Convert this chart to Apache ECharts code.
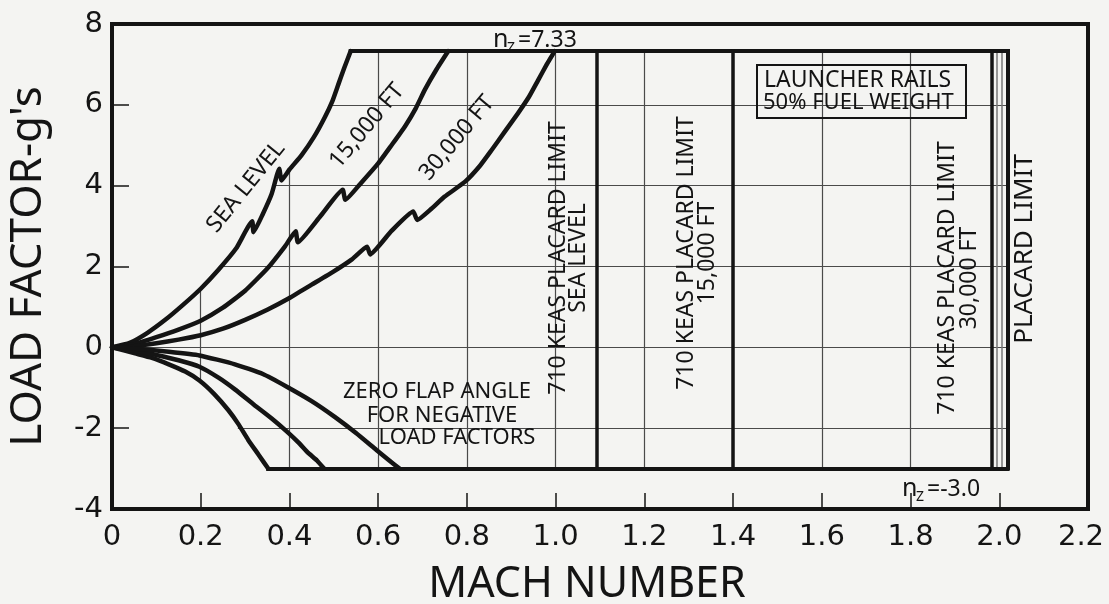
<!DOCTYPE html>
<html>
<head>
<meta charset="utf-8">
<title>Load factor vs Mach number</title>
<script src="https://cdn.jsdelivr.net/npm/echarts@6/dist/echarts.min.js"></script>
<style>
  html, body { margin: 0; padding: 0; background: #f4f4f2; }
  #chart { width: 1109px; height: 604px; }
</style>
</head>
<body>
<div id="chart"></div>
<script>
// axis ranges (ticks every 0.2 Mach, every 2 g)
const machTicks = [0, 0.2, 0.4, 0.6, 0.8, 1.0, 1.2, 1.4, 1.6, 1.8, 2.0, 2.2]
const loadTicks = [-4, -2, 0, 2, 4, 6, 8]

// positive load factor curves [mach, n]
const seaLevelPos = [[0, 0], [0.04, 0.11], [0.08, 0.36], [0.12, 0.68], [0.16, 1.05], [0.2, 1.45], [0.24, 1.92], [0.28, 2.45], [0.316, 3.12], [0.319, 2.85], [0.34, 3.3], [0.36, 3.8], [0.377, 4.42], [0.382, 4.13], [0.4, 4.4], [0.427, 4.75], [0.455, 5.2], [0.48, 5.7], [0.497, 6.1], [0.51, 6.5], [0.523, 6.9], [0.538, 7.33]]
const ft15000Pos = [[0, 0], [0.05, 0.08], [0.1, 0.25], [0.15, 0.44], [0.2, 0.66], [0.25, 0.98], [0.3, 1.4], [0.35, 1.95], [0.39, 2.5], [0.414, 2.87], [0.419, 2.6], [0.47, 3.25], [0.52, 3.9], [0.526, 3.65], [0.56, 4.05], [0.6, 4.55], [0.63, 5.0], [0.66, 5.46], [0.685, 5.92], [0.705, 6.37], [0.73, 6.85], [0.758, 7.33]]
const ft30000Pos = [[0, 0], [0.05, 0.03], [0.1, 0.1], [0.15, 0.19], [0.2, 0.3], [0.25, 0.46], [0.3, 0.68], [0.35, 0.93], [0.4, 1.22], [0.45, 1.55], [0.5, 1.88], [0.54, 2.17], [0.575, 2.49], [0.582, 2.3], [0.63, 2.88], [0.679, 3.36], [0.688, 3.15], [0.72, 3.43], [0.75, 3.73], [0.796, 4.1], [0.83, 4.5], [0.855, 4.87], [0.885, 5.33], [0.915, 5.79], [0.94, 6.2], [0.96, 6.6], [0.98, 7.0], [0.998, 7.33]]

// negative load factor curves (zero flap angle)
const seaLevelNeg = [[0, 0], [0.052, -0.15], [0.09, -0.26], [0.128, -0.42], [0.165, -0.6], [0.197, -0.82], [0.23, -1.15], [0.262, -1.55], [0.285, -1.9], [0.307, -2.29], [0.33, -2.65], [0.352, -3.0]]
const ft15000Neg = [[0, 0], [0.05, -0.08], [0.1, -0.19], [0.15, -0.32], [0.197, -0.48], [0.24, -0.75], [0.277, -1.04], [0.32, -1.42], [0.36, -1.76], [0.395, -2.09], [0.42, -2.35], [0.443, -2.62], [0.462, -2.8], [0.478, -3.0]]
const ft30000Neg = [[0, 0], [0.05, -0.03], [0.128, -0.11], [0.197, -0.2], [0.277, -0.42], [0.34, -0.66], [0.395, -0.98], [0.45, -1.33], [0.502, -1.72], [0.55, -2.12], [0.596, -2.54], [0.625, -2.8], [0.648, -3.0]]

// envelope limits
const nzMax = 7.33
const nzMin = -3.0
const topStart = 0.538
const bottomStart = 0.352
const envelopeRight = 2.018
const placardMach = [1.093, 1.4, 1.983]
const railMach = [1.995, 2.006]

// grid segments inside the envelope
const gridMach = [0.2, 0.4, 0.6, 0.8, 1.0, 1.2, 1.4, 1.6, 1.8]
const gridMachLow = [-0.82, -3, -3, -3, -3, -3, -3, -3, -3]
const gridMachHigh = [1.45, 4.35, 7.33, 7.33, 7.33, 7.33, 7.33, 7.33, 7.33]
const gridLoad = [6, 4, 2, 0, -2]
const gridLoadStart = [0.49, 0.37, 0.245, 0, 0.285]

const INK = '#141414'
const FONT = '"Noto Sans", sans-serif'
const TICK_FONT = '"DejaVu Sans", sans-serif'

const chart = echarts.init(document.getElementById('chart'))

function segLines(segs, color, width, z) {
  return {
    type: 'lines',
    coordinateSystem: 'cartesian2d',
    silent: true,
    z: z,
    lineStyle: { color: color, width: width, opacity: 1, cap: 'square' },
    data: segs.map(s => ({ coords: s }))
  }
}

function curve(name, data) {
  return {
    name: name,
    type: 'line',
    data: data,
    showSymbol: false,
    silent: true,
    smooth: 0.15,
    z: 5,
    lineStyle: { color: INK, width: 4.5, cap: 'round', join: 'round' }
  }
}

const gridSegs = []
gridMach.forEach((m, i) => gridSegs.push([[m, gridMachLow[i]], [m, gridMachHigh[i]]]))
gridLoad.forEach((n, i) => gridSegs.push([[gridLoadStart[i], n], [envelopeRight, n]]))

const envelopeSegs = [
  [[topStart, nzMax], [envelopeRight, nzMax]],
  [[bottomStart, nzMin], [envelopeRight, nzMin]],
  [[envelopeRight, nzMin], [envelopeRight, nzMax]]
]
const placardSegs = placardMach.map(m => [[m, nzMin], [m, nzMax]])
const railSegs = railMach.map(m => [[m, nzMin], [m, nzMax]])

function vText(x, y, text, size, lh) {
  return {
    type: 'text', x: x, y: y, rotation: Math.PI / 2, z: 10,
    style: { text: text, fontSize: size, fontFamily: FONT, fill: INK, align: 'center', verticalAlign: 'middle', lineHeight: lh || size }
  }
}
function sText(x, y, text, size, deg) {
  return {
    type: 'text', x: x, y: y, rotation: (deg || 0) * Math.PI / 180, z: 10,
    style: { text: text, fontSize: size, fontFamily: FONT, fill: INK, align: 'center', verticalAlign: 'middle' }
  }
}
function nzLabel(x, y, value) {
  return {
    type: 'group', x: x, y: y, z: 10,
    children: [
      { type: 'text', x: 0, y: 0, style: { text: 'n', fontSize: 25, fontFamily: FONT, fill: INK, align: 'left', verticalAlign: 'middle' } },
      { type: 'text', x: 14, y: 8, style: { text: 'Z', fontSize: 14, fontFamily: FONT, fill: INK, align: 'left', verticalAlign: 'middle' } },
      { type: 'text', x: 25, y: 0, style: { text: '=' + value, fontSize: 23, fontFamily: FONT, fill: INK, align: 'left', verticalAlign: 'middle' } }
    ]
  }
}

chart.setOption({
  backgroundColor: '#f4f4f2',
  animation: false,
  grid: {
    left: 112, right: 21, top: 24, bottom: 95,
    outerBoundsMode: 'none',
    show: true, borderColor: INK, borderWidth: 4, backgroundColor: 'transparent'
  },
  xAxis: {
    type: 'value',
    min: machTicks[0],
    max: machTicks[machTicks.length - 1],
    interval: 0.2,
    axisLine: { show: false, onZero: false },
    axisTick: { inside: true, length: 16, lineStyle: { color: INK, width: 1.5 } },
    splitLine: { show: false },
    axisLabel: {
      margin: 14, fontSize: 29, fontFamily: TICK_FONT, color: INK,
      formatter: v => {
        if (Math.abs(v) < 1e-9) return '0'
        const s = v.toFixed(1)
        return v > 2.1 ? '{last|' + s + '}' : s
      },
      rich: {
        last: { fontSize: 29, fontFamily: TICK_FONT, color: INK, padding: [0, 14, 0, 0] }
      }
    },
    name: 'MACH NUMBER',
    nameLocation: 'middle',
    nameGap: 54,
    nameTextStyle: { fontSize: 43, fontFamily: FONT, color: INK, padding: [0, 26, 0, 0] }
  },
  yAxis: {
    type: 'value',
    min: loadTicks[0],
    max: loadTicks[loadTicks.length - 1],
    interval: 2,
    axisLine: { show: false, onZero: false },
    axisTick: { inside: true, length: 17, lineStyle: { color: INK, width: 1.5 } },
    splitLine: { show: false },
    axisLabel: { margin: 9, fontSize: 29, fontFamily: TICK_FONT, color: INK, padding: [12, 0, 0, 0] },
    name: "LOAD FACTOR-g's",
    nameLocation: 'middle',
    nameGap: 62,
    nameTextStyle: { fontSize: 44, fontFamily: FONT, color: INK }
  },
  series: [
    segLines(gridSegs, '#4a4a4a', 1.2, 1),
    segLines(railSegs, '#777', 1.5, 2),
    segLines(envelopeSegs, INK, 4, 3),
    segLines(placardSegs, INK, 3.5, 3),
    curve('Sea level', seaLevelPos),
    curve('15,000 ft', ft15000Pos),
    curve('30,000 ft', ft30000Pos),
    curve('Sea level neg', seaLevelNeg),
    curve('15,000 ft neg', ft15000Neg),
    curve('30,000 ft neg', ft30000Neg)
  ],
  graphic: [
    sText(246, 187, 'SEA LEVEL', 23, 51),
    sText(367, 126, '15,000 FT', 23, 50),
    sText(457, 138, '30,000 FT', 23, 50),
    vText(568, 258, '710 KEAS PLACARD LIMIT\nSEA LEVEL', 23, 20),
    vText(697, 253, '710 KEAS PLACARD LIMIT\n15,000 FT', 23, 21),
    vText(958, 278, '710 KEAS PLACARD LIMIT\n30,000 FT', 23, 22),
    vText(1025, 249, 'PLACARD LIMIT', 26),
    sText(437, 392, 'ZERO FLAP ANGLE', 22),
    sText(442, 416, 'FOR NEGATIVE', 22),
    sText(457, 438, 'LOAD FACTORS', 22),
    {
      type: 'rect', z: 10,
      shape: { x: 757, y: 65, width: 209, height: 53 },
      style: { fill: 'transparent', stroke: INK, lineWidth: 2 }
    },
    {
      type: 'text', x: 764, y: 80, z: 10,
      style: { text: 'LAUNCHER RAILS', fontSize: 23, fontFamily: FONT, fill: INK, align: 'left', verticalAlign: 'middle' }
    },
    {
      type: 'text', x: 763, y: 103, z: 10,
      style: { text: '50% FUEL WEIGHT', fontSize: 22, fontFamily: FONT, fill: INK, align: 'left', verticalAlign: 'middle' }
    },
    nzLabel(493, 40, '7.33'),
    nzLabel(902, 489, '-3.0')
  ]
})
</script>
</body>
</html>
